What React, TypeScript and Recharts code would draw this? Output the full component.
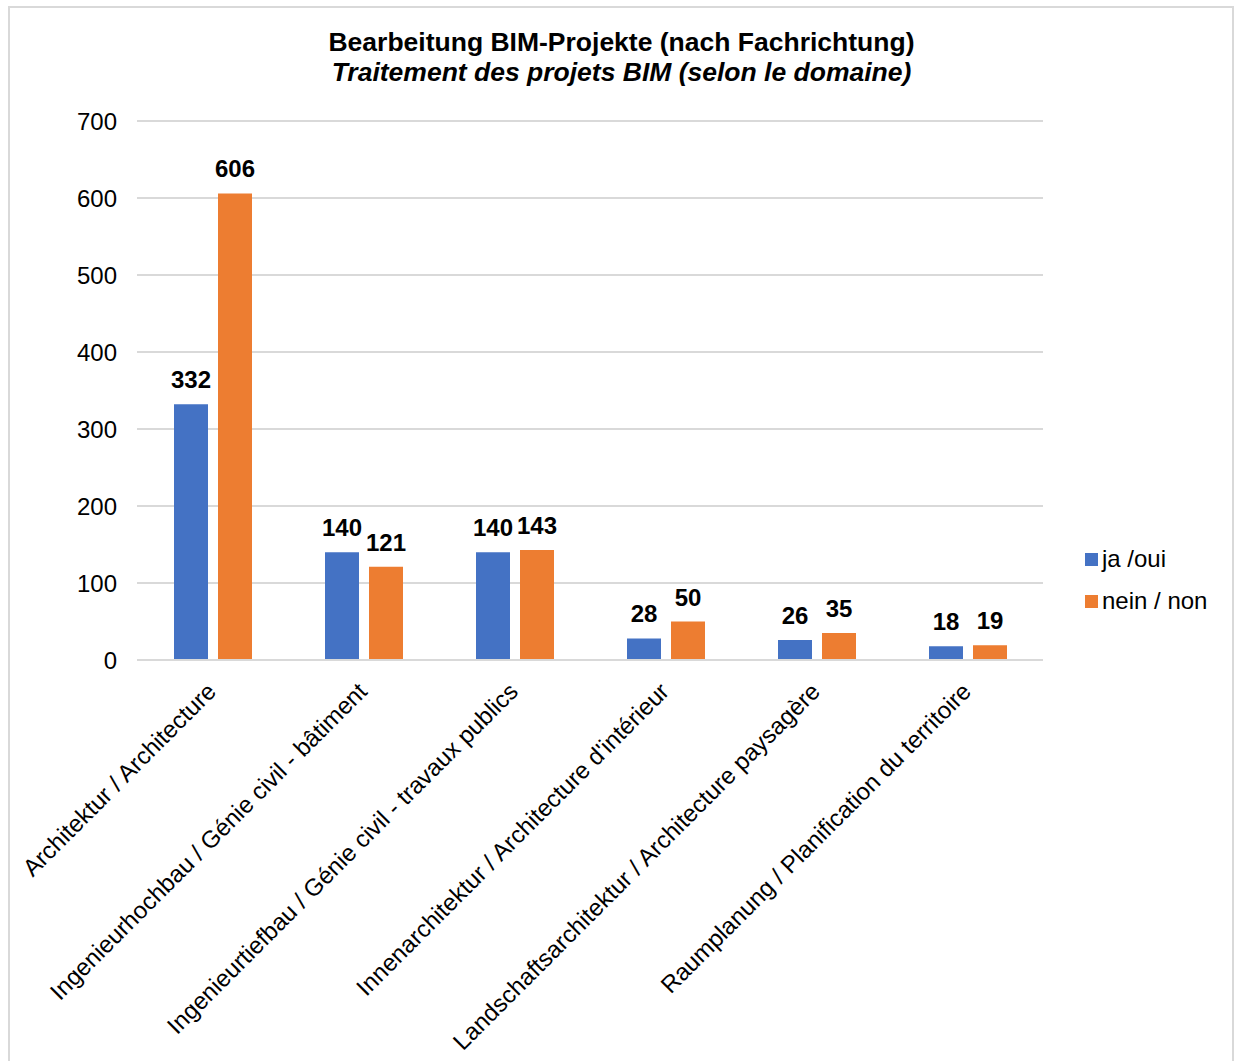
import React from "react";
import { BarChart, Bar, XAxis, YAxis, CartesianGrid, LabelList } from "recharts";

const categories = [
  "Architektur / Architecture",
  "Ingenieurhochbau / Génie civil - bâtiment",
  "Ingenieurtiefbau / Génie civil - travaux publics",
  "Innenarchitektur / Architecture d'intérieur",
  "Landschaftsarchitektur / Architecture paysagère",
  "Raumplanung / Planification du territoire",
];
const jaOui = [332, 140, 140, 28, 26, 18];
const neinNon = [606, 121, 143, 50, 35, 19];
const yTicks = [0, 100, 200, 300, 400, 500, 600, 700];
const seriesNames = ["ja /oui", "nein / non"];
const colors = ["#4472C4", "#ED7D31"];
const titleLine1 = "Bearbeitung BIM-Projekte (nach Fachrichtung)";
const titleLine2 = "Traitement des projets BIM (selon le domaine)";

const data = categories.map((c, i) => ({ cat: c, ja: jaOui[i], nein: neinNon[i] }));

const FONT = "'Liberation Sans', Arial, sans-serif";

const XTick = (props: any) => {
  const { x, y, payload } = props;
  return (
    <g transform={`translate(${x + 5},${y + 25})`}>
      <text transform="rotate(-45)" textAnchor="end" fontSize={24} fill="#000" fontFamily={FONT}>
        {payload.value}
      </text>
    </g>
  );
};

export default function App() {
  return (
    <div style={{ position: "absolute", left: 0, top: 0, width: 1235, height: 1061, overflow: "hidden", background: "#fff", fontFamily: FONT }}>
      <div style={{ position: "absolute", left: 8, top: 6, width: 1226, height: 1080, border: "2px solid #d9d9d9", boxSizing: "border-box" }} />
      <div style={{ position: "absolute", left: 0, top: 27, width: 1243, textAlign: "center", fontSize: 26.5, fontWeight: "bold", lineHeight: "30px", color: "#000" }}>
        <div>{titleLine1}</div>
        <div style={{ fontStyle: "italic" }}>{titleLine2}</div>
      </div>
      <div style={{ position: "absolute", left: 1085, top: 545, fontSize: 24, color: "#000" }}>
        {seriesNames.map((n, i) => (
          <div key={n} style={{ display: "flex", alignItems: "center", height: 28, marginBottom: i === 0 ? 14 : 0 }}>
            <span style={{ display: "inline-block", width: 13, height: 13, background: colors[i], marginRight: 4 }} />
            <span>{n}</span>
          </div>
        ))}
      </div>
      <div style={{ position: "absolute", left: 0, top: 0 }}>
        <BarChart
          width={1235}
          height={1061}
          data={data}
          margin={{ top: 121, right: 192, left: 77, bottom: 11 }}
          barGap={10}
          barSize={34}
        >
          <CartesianGrid vertical={false} stroke="#d9d9d9" strokeWidth={2} />
          <XAxis
            dataKey="cat"
            height={390}
            interval={0}
            tick={<XTick />}
            tickLine={false}
            axisLine={{ stroke: "#d9d9d9", strokeWidth: 2 }}
          />
          <YAxis
            width={60}
            domain={[0, 700]}
            ticks={yTicks}
            tickSize={0}
            tickMargin={20}
            axisLine={false}
            tickLine={false}
            tick={{ fontSize: 24, fill: "#000", fontFamily: FONT }}
          />
          <Bar dataKey="ja" fill={colors[0]} isAnimationActive={false}>
            <LabelList dataKey="ja" position="top" offset={16} style={{ fontSize: 24, fontWeight: "bold", fill: "#000", fontFamily: FONT }} />
          </Bar>
          <Bar dataKey="nein" fill={colors[1]} isAnimationActive={false}>
            <LabelList dataKey="nein" position="top" offset={16} style={{ fontSize: 24, fontWeight: "bold", fill: "#000", fontFamily: FONT }} />
          </Bar>
        </BarChart>
      </div>
    </div>
  );
}
